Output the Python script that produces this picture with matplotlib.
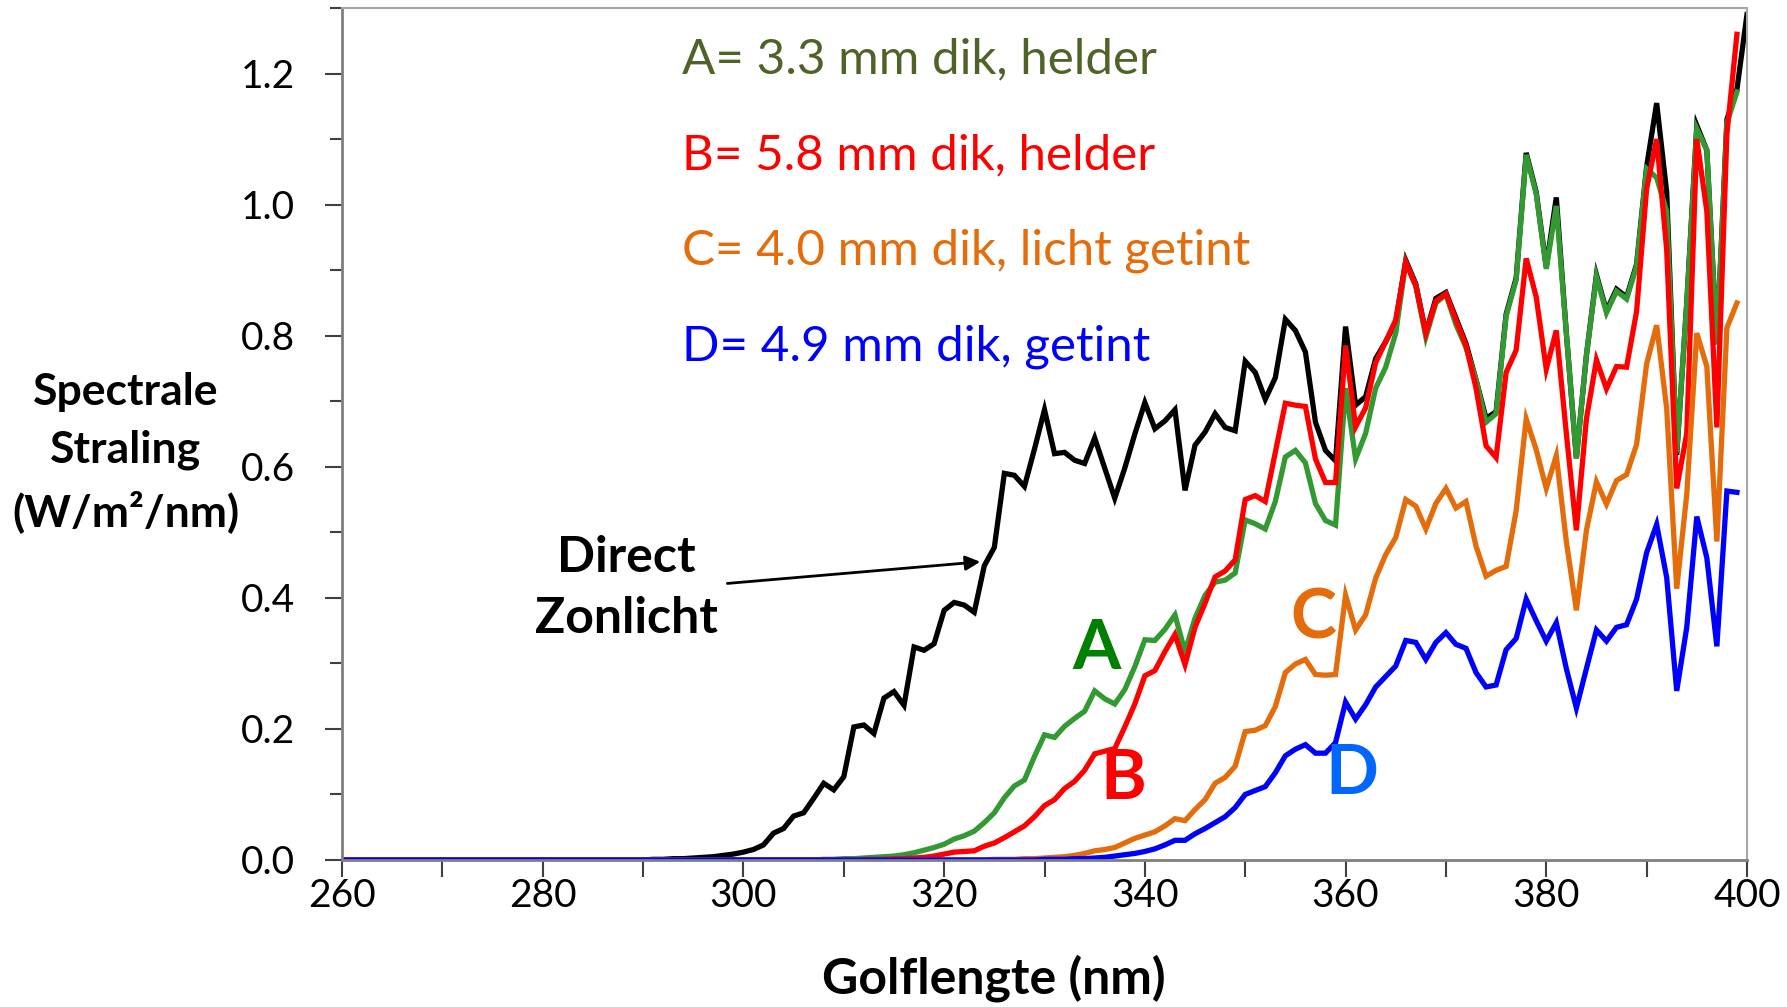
import numpy as np
import matplotlib
matplotlib.use("Agg")
import matplotlib.pyplot as plt
from matplotlib.ticker import MultipleLocator

plt.rcParams['font.family'] = ['Lato', 'DejaVu Sans']

# Spectral irradiance (W/m2/nm) per 1 nm step; zero below each onset wavelength
direct_start = 290
direct_sun = [0.000, 0.001, 0.001, 0.002, 0.002, 0.003, 0.004, 0.005, 0.007, 0.009,
              0.012, 0.016, 0.023, 0.041, 0.048, 0.067, 0.072, 0.094, 0.117, 0.107,
              0.127, 0.203, 0.206, 0.193, 0.247, 0.257, 0.236, 0.325, 0.320, 0.330,
              0.381, 0.393, 0.389, 0.378, 0.449, 0.477, 0.590, 0.587, 0.570, 0.627,
              0.687, 0.620, 0.622, 0.610, 0.605, 0.644, 0.598, 0.552, 0.598, 0.650,
              0.698, 0.658, 0.670, 0.687, 0.564, 0.633, 0.653, 0.681, 0.660, 0.655,
              0.761, 0.744, 0.703, 0.736, 0.825, 0.808, 0.775, 0.668, 0.625, 0.609,
              0.814, 0.694, 0.707, 0.765, 0.791, 0.821, 0.915, 0.879, 0.804, 0.857,
              0.866, 0.827, 0.788, 0.733, 0.674, 0.684, 0.833, 0.888, 1.079, 1.019,
              0.905, 1.011, 0.804, 0.613, 0.770, 0.893, 0.838, 0.871, 0.859, 0.909,
              1.058, 1.155, 1.019, 0.618, 0.850, 1.121, 1.083, 0.787, 1.130, 1.176,
              1.290]

glass_a_start = 308
glass_a = [0.001, 0.001, 0.002, 0.002, 0.003, 0.004, 0.005, 0.006, 0.008, 0.011,
           0.015, 0.019, 0.024, 0.032, 0.037, 0.044, 0.057, 0.072, 0.095, 0.113,
           0.122, 0.158, 0.191, 0.187, 0.204, 0.216, 0.227, 0.258, 0.246, 0.238,
           0.260, 0.295, 0.336, 0.335, 0.352, 0.374, 0.318, 0.369, 0.404, 0.424,
           0.427, 0.438, 0.519, 0.513, 0.505, 0.547, 0.615, 0.625, 0.606, 0.544,
           0.518, 0.511, 0.720, 0.612, 0.651, 0.720, 0.752, 0.804, 0.912, 0.876,
           0.798, 0.850, 0.863, 0.817, 0.782, 0.733, 0.668, 0.681, 0.830, 0.885,
           1.076, 1.016, 0.902, 0.998, 0.804, 0.613, 0.770, 0.890, 0.835, 0.868,
           0.856, 0.906, 1.055, 1.041, 0.990, 0.622, 0.850, 1.116, 1.083, 0.787,
           1.125, 1.172]

glass_b_start = 312
glass_b = [0.001, 0.001, 0.001, 0.002, 0.002, 0.003, 0.004, 0.006, 0.009, 0.012,
           0.013, 0.014, 0.021, 0.026, 0.034, 0.043, 0.052, 0.066, 0.083, 0.092,
           0.109, 0.120, 0.137, 0.162, 0.166, 0.170, 0.203, 0.238, 0.281, 0.289,
           0.318, 0.344, 0.298, 0.355, 0.392, 0.432, 0.441, 0.458, 0.550, 0.556,
           0.547, 0.622, 0.697, 0.694, 0.692, 0.612, 0.576, 0.576, 0.785, 0.661,
           0.690, 0.759, 0.791, 0.824, 0.912, 0.876, 0.804, 0.853, 0.864, 0.824,
           0.785, 0.720, 0.632, 0.614, 0.744, 0.778, 0.918, 0.859, 0.749, 0.808,
           0.651, 0.503, 0.673, 0.763, 0.719, 0.753, 0.752, 0.837, 1.024, 1.100,
           0.931, 0.567, 0.651, 1.100, 0.990, 0.660, 1.108, 1.260]

glass_c_start = 325
glass_c = [0.001, 0.001, 0.001, 0.002, 0.002, 0.003, 0.004, 0.005, 0.007, 0.010,
           0.014, 0.016, 0.019, 0.026, 0.033, 0.038, 0.043, 0.052, 0.063, 0.060,
           0.077, 0.092, 0.117, 0.126, 0.143, 0.196, 0.198, 0.205, 0.234, 0.286,
           0.299, 0.306, 0.283, 0.282, 0.283, 0.404, 0.351, 0.374, 0.430, 0.466,
           0.492, 0.550, 0.540, 0.505, 0.544, 0.567, 0.537, 0.547, 0.479, 0.433,
           0.442, 0.448, 0.533, 0.673, 0.626, 0.567, 0.617, 0.486, 0.381, 0.503,
           0.577, 0.543, 0.579, 0.588, 0.634, 0.757, 0.816, 0.689, 0.414, 0.558,
           0.804, 0.753, 0.486, 0.812, 0.850]

glass_d_start = 330
glass_d = [0.001, 0.001, 0.001, 0.002, 0.002, 0.003, 0.004, 0.006, 0.008, 0.010,
           0.013, 0.017, 0.023, 0.030, 0.030, 0.040, 0.048, 0.057, 0.066, 0.080,
           0.100, 0.106, 0.112, 0.133, 0.159, 0.169, 0.176, 0.163, 0.163, 0.179,
           0.241, 0.215, 0.237, 0.264, 0.280, 0.296, 0.335, 0.332, 0.306, 0.332,
           0.347, 0.329, 0.323, 0.286, 0.264, 0.267, 0.321, 0.338, 0.398, 0.365,
           0.334, 0.362, 0.292, 0.232, 0.292, 0.351, 0.334, 0.355, 0.359, 0.398,
           0.469, 0.512, 0.431, 0.258, 0.355, 0.524, 0.461, 0.326, 0.563, 0.561]

legend_lines = ["A= 3.3 mm dik, helder",
                "B= 5.8 mm dik, helder",
                "C= 4.0 mm dik, licht getint",
                "D= 4.9 mm dik, getint"]
x_ticks = [260, 280, 300, 320, 340, 360, 380, 400]
y_ticks = [0.0, 0.2, 0.4, 0.6, 0.8, 1.0, 1.2]

WL0 = 260


def series(start, values):
    vals = np.concatenate([np.zeros(start - WL0), np.asarray(values, float)])
    wl = np.arange(WL0, WL0 + len(vals))
    return wl, vals


fig = plt.figure(figsize=(17.87, 10.07), dpi=100)
ax = fig.add_axes([0.1914, 0.146, 0.9776 - 0.1914, 0.992 - 0.146])

lw = 3.8
ax.plot(*series(direct_start, direct_sun), color='black', lw=lw, solid_joinstyle='miter')
ax.plot(*series(glass_a_start, glass_a), color='#339933', lw=lw, solid_joinstyle='miter')
ax.plot(*series(glass_b_start, glass_b), color='#FF0000', lw=lw, solid_joinstyle='miter')
ax.plot(*series(glass_c_start, glass_c), color='#E46C0A', lw=lw, solid_joinstyle='miter')
ax.plot(*series(glass_d_start, glass_d), color='#0000FF', lw=lw, solid_joinstyle='miter')

ax.set_xlim(260, 400)
ax.set_ylim(0, 1.3)
ax.set_xticks(x_ticks)
ax.set_yticks(y_ticks)
ax.set_yticklabels([f"{v:.1f}" for v in y_ticks])
ax.xaxis.set_minor_locator(MultipleLocator(10))
ax.yaxis.set_minor_locator(MultipleLocator(0.1))
ax.tick_params(axis='both', which='both', direction='out', colors='#404040',
               width=1.5, labelcolor='black', labelsize=28)
ax.tick_params(axis='x', which='both', length=12, pad=1)
ax.tick_params(axis='y', which='major', length=12, pad=22)
ax.tick_params(axis='y', which='minor', length=9)

for side in ('left', 'bottom'):
    ax.spines[side].set_color('#7f7f7f')
    ax.spines[side].set_linewidth(2)
for side in ('top', 'right'):
    ax.spines[side].set_color('#a6a6a6')
    ax.spines[side].set_linewidth(1.5)

# Glass descriptions
legend_colors = ['#4F6228', '#FF0000', '#E46C0A', '#0000FF']
legend_y = [1.221, 1.075, 0.929, 0.783]
for txt, col, yy in zip(legend_lines, legend_colors, legend_y):
    ax.text(293.9, yy, txt, color=col, fontsize=35.5, ha='left', va='center')

# Curve labels
ax.text(288.3, 0.415, "Direct\nZonlicht", fontsize=36, fontweight='bold',
        ha='center', va='center', linespacing=1.45)
ax.annotate("", xy=(323.6, 0.455), xytext=(298.4, 0.422),
            arrowprops=dict(arrowstyle='-|>', color='black', lw=2,
                            mutation_scale=22, shrinkA=0, shrinkB=0))
ax.text(335.2, 0.321, "A", color='#008000', fontsize=50, fontweight='bold', ha='center', va='center')
ax.text(337.8, 0.123, "B", color='#FF0000', fontsize=50, fontweight='bold', ha='center', va='center')
ax.text(356.8, 0.368, "C", color='#E46C0A', fontsize=50, fontweight='bold', ha='center', va='center')
ax.text(360.6, 0.130, "D", color='#0066FF', fontsize=50, fontweight='bold', ha='center', va='center')

fig.text(0.0702, 0.5507, "Spectrale\nStraling\n(W/m²/nm)", fontsize=32, fontweight='bold',
         ha='center', va='center', linespacing=1.55)
fig.text(0.556, 0.029, "Golflengte (nm)", fontsize=36, fontweight='bold',
         ha='center', va='center')

fig.savefig("out.png", dpi=100, facecolor='white')
